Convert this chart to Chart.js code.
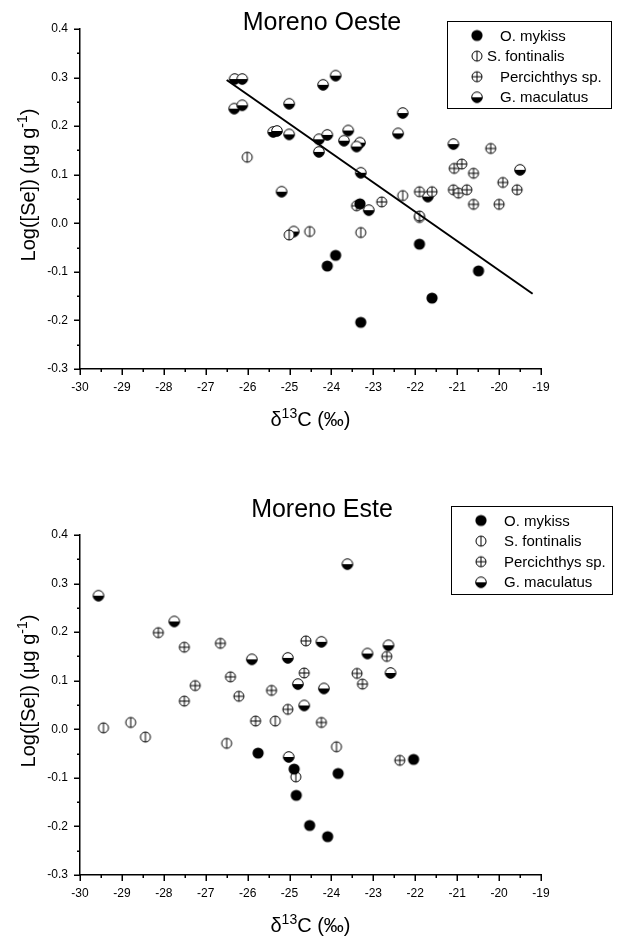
<!DOCTYPE html>
<html><head><meta charset="utf-8">
<script src="https://cdn.jsdelivr.net/npm/chart.js@4.4.1/dist/chart.umd.min.js"></script>
<style>
html,body{margin:0;padding:0;background:#fff;width:617px;height:937px;overflow:hidden}
.wrap{position:absolute;left:0;width:617px}
canvas{display:block}
</style></head><body>
<div class="wrap" style="top:0;height:468px"><canvas id="c1" width="617" height="468"></canvas></div>
<div class="wrap" style="top:468px;height:469px"><canvas id="c2" width="617" height="469"></canvas></div>
<script>
// ---------- DATA ----------
const seriesNames = ['O. mykiss', 'S. fontinalis', 'Percichthys sp.', 'G. maculatus'];
const xTickLabels = ['-30','-29','-28','-27','-26','-25','-24','-23','-22','-21','-20','-19'];
const yTickLabels = ['-0.3','-0.2','-0.1','0.0','0.1','0.2','0.3','0.4'];

// Moreno Oeste  [d13C, log Se]
const oesteMykiss = [[-23.32,0.040],[-21.90,-0.043],[-23.90,-0.066],[-24.10,-0.088],[-20.49,-0.098],[-21.60,-0.154],[-23.30,-0.204]];
const oesteFontinalis = [[-26.01,0.136],[-25.01,-0.024],[-24.52,-0.017],[-23.30,-0.019],[-22.30,0.057],[-21.90,0.015]];
const oestePercichthys = [[-23.40,0.036],[-22.80,0.044],[-21.90,0.065],[-21.60,0.065],[-21.90,0.012],[-21.09,0.069],[-20.97,0.062],[-20.77,0.069],[-20.61,0.039],[-20.00,0.039],[-19.91,0.084],[-19.57,0.069],[-21.07,0.113],[-20.89,0.122],[-20.61,0.103],[-20.20,0.154]];
const oesteMaculatus = [[-26.31,0.297],[-26.13,0.297],[-26.32,0.236],[-26.13,0.243],[-25.01,0.246],[-25.39,0.188],[-25.30,0.190],[-25.01,0.183],[-25.19,0.065],[-24.90,-0.017],[-24.20,0.285],[-23.90,0.304],[-22.30,0.227],[-22.41,0.185],[-24.30,0.173],[-24.10,0.182],[-23.60,0.191],[-23.70,0.170],[-24.30,0.147],[-23.32,0.166],[-23.40,0.158],[-23.30,0.104],[-21.09,0.163],[-19.50,0.110],[-23.11,0.027],[-21.70,0.055]];
const oesteFitX = [-26.5, -19.2];
const oesteFitY = [0.295, -0.145];

// Moreno Este
const esteMykiss = [[-25.75,-0.049],[-24.89,-0.082],[-24.84,-0.136],[-24.52,-0.198],[-24.09,-0.221],[-23.84,-0.091],[-22.04,-0.062]];
const esteFontinalis = [[-29.44,0.003],[-28.79,0.014],[-28.44,-0.016],[-26.50,-0.029],[-25.34,0.017],[-24.85,-0.098],[-23.88,-0.036]];
const estePercichthys = [[-28.13,0.199],[-27.51,0.169],[-26.65,0.177],[-26.41,0.108],[-27.25,0.090],[-27.51,0.058],[-26.21,0.068],[-25.43,0.080],[-25.81,0.017],[-25.04,0.041],[-24.65,0.116],[-24.61,0.182],[-24.24,0.014],[-23.39,0.115],[-23.26,0.093],[-22.68,0.150],[-22.37,-0.064]];
const esteMaculatus = [[-29.56,0.275],[-27.75,0.222],[-25.90,0.144],[-25.04,0.147],[-24.80,0.093],[-24.65,0.049],[-25.02,-0.057],[-24.24,0.180],[-24.18,0.084],[-23.62,0.340],[-23.14,0.156],[-22.64,0.173],[-22.59,0.116]];

// ---------- STYLE ----------
const FONT = '"Liberation Sans", Arial, Helvetica, sans-serif';
Chart.defaults.font.family = FONT;
Chart.defaults.color = '#000';

function makeMarker(kind){
  const c = document.createElement('canvas');
  c.width = 14; c.height = 14;
  const g = c.getContext('2d');
  const cx = 7, cy = 7;
  g.lineWidth = 1; g.strokeStyle = '#000';
  if (kind === 0) {
    g.beginPath(); g.arc(cx, cy, 5.6, 0, Math.PI*2); g.fillStyle = '#000'; g.fill();
  } else if (kind === 1 || kind === 2) {
    const r = 5;
    g.beginPath(); g.arc(cx, cy, r, 0, Math.PI*2); g.fillStyle = '#fff'; g.fill(); g.stroke();
    g.beginPath(); g.moveTo(cx, cy - r); g.lineTo(cx, cy + r); g.stroke();
    if (kind === 2) { g.beginPath(); g.moveTo(cx - r, cy); g.lineTo(cx + r, cy); g.stroke(); }
  } else {
    const r = 5.3;
    g.beginPath(); g.arc(cx, cy, r, Math.PI, 0); g.closePath(); g.fillStyle = '#fff'; g.fill();
    g.beginPath(); g.arc(cx, cy, r, 0, Math.PI); g.closePath(); g.fillStyle = '#000'; g.fill();
    g.beginPath(); g.arc(cx, cy, r, 0, Math.PI*2); g.stroke();
  }
  return c;
}
const markers = [0,1,2,3].map(makeMarker);

function pts(arr){ return arr.map(p => ({x: p[0], y: p[1]})); }

function drawRich(ctx, parts, cx, cy, rotate){
  ctx.save();
  ctx.translate(cx, cy);
  if (rotate) ctx.rotate(-Math.PI/2);
  let w = 0;
  parts.forEach(p => { ctx.font = p.size + 'px ' + FONT; p.w = ctx.measureText(p.t).width; w += p.w; });
  let x = -w/2;
  ctx.textBaseline = 'alphabetic'; ctx.textAlign = 'left'; ctx.fillStyle = '#000';
  parts.forEach(p => { ctx.font = p.size + 'px ' + FONT; ctx.fillText(p.t, x, -(p.rise||0)); x += p.w; });
  ctx.restore();
}

const decoPlugin = {
  id: 'deco',
  afterDraw(chart, args, o){
    const ctx = chart.ctx, ca = chart.chartArea;
    const xs = chart.scales.x, ys = chart.scales.y;
    ctx.save();
    // tick marks (outward, major/minor)
    ctx.strokeStyle = '#000'; ctx.lineWidth = 1.5;
    xs.ticks.forEach(t => {
      const px = Math.round(xs.getPixelForValue(t.value)) + 0.25;
      const major = Math.abs(t.value - Math.round(t.value)) < 1e-6;
      ctx.beginPath(); ctx.moveTo(px, ca.bottom); ctx.lineTo(px, ca.bottom + (major ? 6 : 3)); ctx.stroke();
    });
    ys.ticks.forEach(t => {
      const py = Math.round(ys.getPixelForValue(t.value)) + 0.25;
      const major = Math.abs(t.value*10 - Math.round(t.value*10)) < 1e-6;
      ctx.beginPath(); ctx.moveTo(ca.left, py); ctx.lineTo(ca.left - (major ? 6 : 3), py); ctx.stroke();
    });
    // title
    ctx.fillStyle = '#000'; ctx.font = '25px ' + FONT; ctx.textAlign = 'center'; ctx.textBaseline = 'alphabetic';
    ctx.fillText(o.title, o.titleX, o.titleY);
    // axis titles
    drawRich(ctx, [{t:'δ', size:20},{t:'13', size:14, rise:8},{t:'C (‰)', size:20}], (ca.left+ca.right)/2, ca.bottom + o.xTitleDy, false);
    drawRich(ctx, [{t:'Log([Se]) (μg g', size:20},{t:'-1', size:14, rise:8},{t:')', size:20}], o.yTitleX, (ca.top+ca.bottom)/2 + o.yTitleDy, true);
    // legend
    const b = o.legendBox;
    ctx.lineWidth = 1; ctx.strokeStyle = '#000';
    ctx.strokeRect(b.x + 0.5, b.y + 0.5, b.w, b.h);
    ctx.font = '15px ' + FONT; ctx.textAlign = 'left'; ctx.textBaseline = 'middle';
    seriesNames.forEach((name, i) => {
      const ry = b.y + 14.5 + 20.6*i;
      const m = markers[i];
      ctx.drawImage(m, b.x + 30 - m.width/2, ry - m.height/2);
      ctx.fillText(name, b.x + o.textOff[i], ry + 1);
    });
    ctx.restore();
  }
};

function makeChart(id, sets, fitX, fitY, deco, pad){
  const datasets = sets.map((s, i) => ({
    label: seriesNames[i], data: pts(s), pointStyle: markers[i], pointRadius: 6, showLine: false
  }));
  if (fitX) {
    datasets.push({ label: 'fit', data: fitX.map((x, i) => ({x, y: fitY[i]})), showLine: true,
      borderColor: '#000', borderWidth: 2, pointRadius: 0, fill: false, order: -1 });
  }
  return new Chart(document.getElementById(id), {
    type: 'scatter',
    data: { datasets },
    plugins: [decoPlugin],
    options: {
      responsive: false, animation: false, events: [],
      layout: { padding: pad },
      plugins: { legend: { display: false }, tooltip: { enabled: false }, deco },
      scales: {
        x: {
          type: 'linear', min: -30, max: -19,
          afterFit: s => { s.height = 30; },
          grid: { display: false, drawTicks: false },
          border: { display: true, color: '#000', width: 1.5 },
          ticks: { stepSize: 0.5, autoSkip: false, maxRotation: 0, padding: 11, font: { size: 12 }, color: '#000',
            callback: v => { const k = Math.round(v + 30); return Math.abs(v - Math.round(v)) < 1e-6 ? xTickLabels[k] : ''; } }
        },
        y: {
          type: 'linear', min: -0.3, max: 0.4,
          afterFit: s => { s.width = 80; },
          grid: { display: false, drawTicks: false },
          border: { display: true, color: '#000', width: 1.5 },
          ticks: { stepSize: 0.05, autoSkip: false, padding: 12, font: { size: 12 }, color: '#000',
            callback: v => { const k = Math.round(v*20); return k % 2 === 0 ? yTickLabels[k/2 + 3] : ''; } }
        }
      }
    }
  });
}

makeChart('c1', [oesteMykiss, oesteFontinalis, oestePercichthys, oesteMaculatus], oesteFitX, oesteFitY,
  { title: 'Moreno Oeste', titleX: 322, titleY: 30, xTitleDy: 57, yTitleX: 35, yTitleDy: -14,
    legendBox: { x: 447, y: 21, w: 164, h: 87 }, textOff: [53, 40, 53, 53] },
  { top: 29, bottom: 69, left: 0, right: 76 });

makeChart('c2', [esteMykiss, esteFontinalis, estePercichthys, esteMaculatus], null, null,
  { title: 'Moreno Este', titleX: 322, titleY: 49, xTitleDy: 57, yTitleX: 35, yTitleDy: -14,
    legendBox: { x: 451, y: 38, w: 161, h: 88 }, textOff: [53, 53, 53, 53] },
  { top: 67, bottom: 32, left: 0, right: 76 });
</script>
</body></html>
